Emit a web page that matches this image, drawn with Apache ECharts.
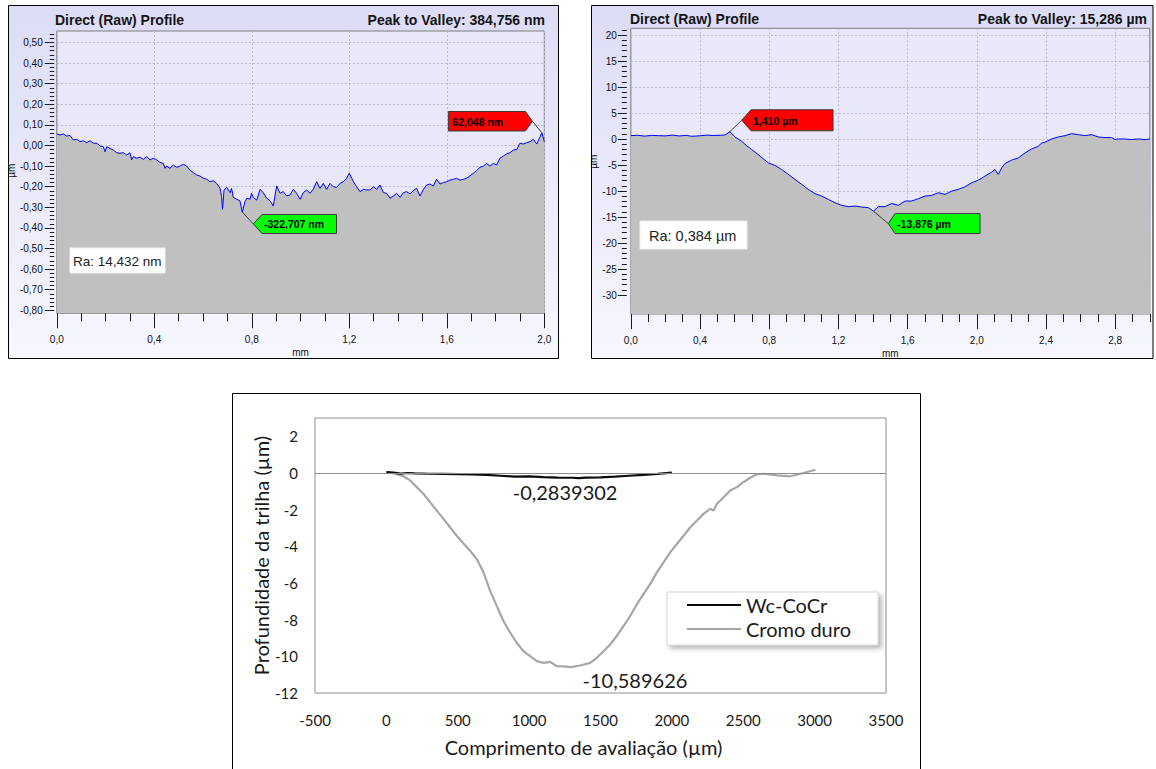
<!DOCTYPE html>
<html><head><meta charset="utf-8">
<script src="https://cdn.jsdelivr.net/npm/echarts@6/dist/echarts.min.js"></script>
<style>html,body{margin:0;padding:0;background:#fff}#c{width:1156px;height:769px}</style>
</head><body><div id="c"></div>
<script>
// ---------------- data ----------------
// Panel 1 : Direct (Raw) Profile, x in mm, y in µm
const p1X = [0.000,0.013,0.027,0.040,0.054,0.068,0.082,0.095,0.109,0.123,0.136,0.150,0.164,0.177,0.191,0.198,0.205,0.218,0.232,0.246,0.259,0.273,0.287,0.300,0.307,0.314,0.328,0.341,0.355,0.369,0.382,0.396,0.410,0.423,0.437,0.444,0.451,0.464,0.478,0.492,0.505,0.519,0.533,0.546,0.560,0.574,0.587,0.601,0.615,0.628,0.642,0.656,0.670,0.676,0.680,0.686,0.697,0.711,0.717,0.724,0.738,0.751,0.761,0.772,0.779,0.793,0.799,0.806,0.820,0.834,0.847,0.861,0.875,0.888,0.902,0.916,0.929,0.943,0.957,0.970,0.984,0.998,1.011,1.025,1.039,1.052,1.066,1.080,1.093,1.107,1.121,1.134,1.148,1.162,1.175,1.189,1.200,1.210,1.217,1.230,1.244,1.258,1.271,1.285,1.299,1.312,1.326,1.340,1.353,1.367,1.381,1.394,1.408,1.422,1.435,1.449,1.463,1.476,1.490,1.504,1.517,1.531,1.545,1.558,1.572,1.586,1.599,1.613,1.627,1.640,1.654,1.668,1.681,1.695,1.709,1.722,1.736,1.750,1.763,1.777,1.791,1.804,1.818,1.832,1.845,1.859,1.873,1.887,1.900,1.914,1.928,1.942,1.955,1.969,1.983,1.990,2.000];
const p1Y = [0.056,0.051,0.056,0.046,0.049,0.027,0.030,0.019,0.023,0.014,0.023,0.011,0.011,-0.002,-0.006,-0.030,-0.006,-0.014,-0.022,-0.035,-0.038,-0.035,-0.046,-0.035,-0.070,-0.054,-0.062,-0.057,-0.067,-0.054,-0.070,-0.062,-0.070,-0.082,-0.087,-0.111,-0.100,-0.111,-0.095,-0.106,-0.100,-0.091,-0.100,-0.119,-0.132,-0.143,-0.148,-0.159,-0.164,-0.176,-0.171,-0.184,-0.208,-0.248,-0.310,-0.216,-0.203,-0.229,-0.208,-0.252,-0.261,-0.268,-0.3227,-0.273,-0.256,-0.261,-0.232,-0.252,-0.265,-0.213,-0.229,-0.256,-0.268,-0.294,-0.197,-0.232,-0.224,-0.245,-0.240,-0.213,-0.232,-0.261,-0.229,-0.216,-0.232,-0.213,-0.176,-0.208,-0.184,-0.213,-0.184,-0.200,-0.203,-0.184,-0.176,-0.159,-0.135,-0.159,-0.176,-0.200,-0.224,-0.213,-0.216,-0.216,-0.200,-0.213,-0.192,-0.229,-0.232,-0.256,-0.245,-0.232,-0.252,-0.229,-0.224,-0.235,-0.219,-0.208,-0.245,-0.213,-0.192,-0.187,-0.197,-0.164,-0.187,-0.180,-0.176,-0.168,-0.164,-0.159,-0.168,-0.164,-0.159,-0.148,-0.135,-0.122,-0.106,-0.100,-0.087,-0.100,-0.087,-0.095,-0.062,-0.051,-0.041,-0.035,-0.022,-0.019,0.011,0.007,0.014,0.019,0.030,0.007,0.043,0.062,0.019];
const p1YTicks = [-0.8,-0.7,-0.6,-0.5,-0.4,-0.3,-0.2,-0.1,0,0.1,0.2,0.3,0.4,0.5];

// Panel 2 : Direct (Raw) Profile, x in mm, y in µm
const p2X = [0.000,0.040,0.080,0.120,0.159,0.200,0.240,0.280,0.320,0.352,0.400,0.440,0.480,0.520,0.545,0.573,0.602,0.641,0.670,0.699,0.737,0.766,0.795,0.834,0.872,0.911,0.949,0.988,1.026,1.065,1.103,1.142,1.180,1.219,1.257,1.296,1.334,1.373,1.402,1.431,1.469,1.508,1.546,1.585,1.623,1.662,1.701,1.739,1.778,1.816,1.855,1.893,1.932,1.970,2.009,2.047,2.086,2.105,2.124,2.144,2.163,2.201,2.240,2.279,2.317,2.356,2.375,2.394,2.433,2.471,2.510,2.548,2.587,2.625,2.664,2.702,2.741,2.779,2.799,2.818,2.856,2.895,2.933,2.972,3.000];
const p2Y = [0.65,0.72,0.55,0.70,0.65,0.60,0.75,0.58,0.70,0.52,0.62,0.75,0.68,0.72,0.78,1.41,0.40,-0.43,-1.30,-2.03,-2.99,-3.80,-4.59,-5.09,-5.86,-6.81,-7.77,-8.73,-9.69,-10.52,-10.97,-11.61,-12.25,-12.76,-13.01,-12.89,-13.08,-13.20,-13.876,-13.01,-13.01,-12.38,-12.76,-11.93,-11.93,-11.48,-10.97,-10.84,-10.33,-10.65,-10.01,-9.69,-9.18,-8.42,-7.91,-7.14,-6.37,-5.86,-6.81,-5.54,-4.71,-4.07,-3.63,-2.67,-1.90,-1.39,-0.75,-0.63,0.01,0.40,0.65,1.03,0.84,0.65,0.84,0.40,0.27,0.27,-0.11,0.01,0.01,-0.11,0.01,-0.11,0.00];
const p2XTicks = [0,0.4,0.8,1.2,1.6,2.0,2.4,2.8];
const p2YTicks = [-30,-25,-20,-15,-10,-5,0,5,10,15,20];

// Panel 3 : comparison (Excel style), x in µm, y in µm
const p3WcX = [0,50,100,150,200,300,400,500,600,700,800,900,1000,1100,1200,1300,1350,1400,1500,1600,1700,1800,1900,2000];
const p3WcY = [0.05,0.02,-0.03,0.00,-0.02,-0.04,-0.05,-0.06,-0.08,-0.10,-0.15,-0.20,-0.18,-0.22,-0.25,-0.26,-0.2839302,-0.25,-0.24,-0.20,-0.15,-0.10,-0.05,0.02];
const p3CrX = [0,40,70,119,166,213,259,306,353,400,446,493,540,586,633,680,727,773,820,867,913,960,1007,1054,1100,1147,1194,1241,1290,1357,1428,1474,1521,1568,1614,1661,1708,1755,1801,1848,1895,1942,1988,2035,2082,2129,2176,2222,2269,2292,2316,2363,2409,2456,2503,2549,2596,2643,2736,2830,2923,3005];
const p3CrY = [0.02,0.00,-0.07,-0.18,-0.40,-0.77,-1.13,-1.59,-2.05,-2.50,-2.96,-3.42,-3.84,-4.24,-4.69,-5.42,-6.43,-7.25,-8.07,-8.71,-9.26,-9.72,-9.99,-10.26,-10.36,-10.30,-10.54,-10.55,-10.589626,-10.50,-10.36,-10.08,-9.72,-9.35,-8.89,-8.35,-7.80,-7.16,-6.61,-6.06,-5.42,-4.88,-4.33,-3.87,-3.42,-2.96,-2.59,-2.23,-1.95,-2.05,-1.68,-1.32,-0.95,-0.77,-0.49,-0.26,-0.07,-0.04,-0.13,-0.18,0.00,0.18];
const p3Names = ['Wc-CoCr', 'Cromo duro'];

// texts
const tTitle = 'Direct (Raw) Profile';
const tPV1 = 'Peak to Valley: 384,756 nm';
const tPV2 = 'Peak to Valley: 15,286 µm';
const tRa1 = 'Ra: 14,432 nm';
const tRa2 = 'Ra: 0,384 µm';
const tPeak1 = '62,048 nm', tValley1 = '-322,707 nm';
const tPeak2 = '1,410 µm', tValley2 = '-13,876 µm';
const tXName = 'mm', tYName = 'µm';
const tX3 = 'Comprimento de avaliação (µm)';
const tY3 = 'Profundidade da trilha (µm)';

// ---------------- chart ----------------
const SANS = "'Liberation Sans', Arial, sans-serif";
const XL = "Lato, 'Open Sans', sans-serif";
const tickC = '#1a1a1a';
const gridLine = {show: true, lineStyle: {color: '#b9b9c9', type: [2, 2], width: 1}};
const zip = (a, b) => a.map((v, i) => [v, b[i]]);
const isMult = (v, s) => Math.abs(v / s - Math.round(v / s)) < 1e-6;

const chart = echarts.init(document.getElementById('c'), null, {renderer: 'svg', width: 1156, height: 769});

const plotBg = '#e8e8fa';
const grids = [
  {left: 56.8, top: 31, width: 487.5, height: 282.3, show: true, backgroundColor: plotBg, borderColor: '#7d7d7d', borderWidth: 1},
  {left: 56.8, top: 31, width: 487.5, height: 279.3, show: false},
  {left: 630.8, top: 28.3, width: 519, height: 285.7, show: true, backgroundColor: plotBg, borderColor: '#7d7d7d', borderWidth: 1},
  {left: 630.8, top: 28.3, width: 519, height: 266.7, show: false},
  {left: 315, top: 418, width: 571, height: 275, show: true, backgroundColor: '#fff', borderColor: '#8f8f8f', borderWidth: 1}
].map(g => Object.assign({outerBoundsMode: 'none', containLabel: false}, g));

const smallLbl = {fontFamily: SANS, fontSize: 10, color: '#111'};
function minorX(gi, max) {
  return {type: 'value', gridIndex: gi, position: 'bottom', min: 0, max: max, interval: 0.1,
    axisLine: {show: false, onZero: false}, axisTick: {show: true, length: 8, lineStyle: {color: tickC}},
    axisLabel: {show: false}, splitLine: {show: false}};
}
function majorX(gi, max, custom) {
  const tick = {show: true, length: 15, lineStyle: {color: tickC}};
  if (custom) tick.customValues = custom;
  return {type: 'value', gridIndex: gi, position: 'bottom', min: 0, max: max, interval: 0.4,
    axisLine: {show: false, onZero: false}, axisTick: tick,
    axisLabel: Object.assign({margin: 21, formatter: v => isMult(v, 0.4) ? v.toFixed(1).replace('.', ',') : ''}, smallLbl),
    splitLine: gridLine,
    name: tXName, nameLocation: 'middle', nameGap: 34, nameTextStyle: {fontFamily: SANS, fontSize: 10, color: '#111'}};
}
const xAxes = [
  minorX(0, 2), majorX(0, 2, null), {type: 'value', gridIndex: 1, min: 0, max: 2, show: false},
  minorX(2, 3), majorX(2, 3, p2XTicks), {type: 'value', gridIndex: 3, min: 0, max: 3, show: false},
  {type: 'value', gridIndex: 4, min: -500, max: 3500, interval: 500, position: 'bottom',
    axisLine: {show: false, onZero: false}, axisTick: {show: false}, splitLine: {show: false},
    axisLabel: {margin: 19, fontFamily: XL, fontSize: 15, color: '#1a1a1a', formatter: v => String(v)},
    name: tX3, nameLocation: 'middle', nameGap: 44, nameTextStyle: {fontFamily: XL, fontSize: 20, color: '#1a1a1a', padding: [0, 34, 0, 0]}}
];
const yAxes = [
  {type: 'value', gridIndex: 0, min: -0.8146, max: 0.5558, show: false},
  {type: 'value', gridIndex: 1, position: 'left', offset: 2.6, min: -0.8, max: 0.5558, interval: 0.1,
    axisLine: {show: false, onZero: false},
    axisTick: {show: true, length: 9.4, lineStyle: {color: tickC}, customValues: p1YTicks},
    minorTick: {show: true, splitNumber: 5, length: 4.4, lineStyle: {color: tickC}},
    axisLabel: Object.assign({margin: 11.5, formatter: v => {
      if (!isMult(v, 0.1)) return '';
      const r = Math.round(v * 10) / 10; return (r === 0 ? 0 : r).toFixed(2).replace('.', ',');
    }}, smallLbl),
    splitLine: gridLine,
    name: tYName, nameLocation: 'middle', nameGap: 27, nameRotate: 90, nameTextStyle: {fontFamily: SANS, fontSize: 10, color: '#111'}},
  {type: 'value', gridIndex: 2, min: -33.65, max: 21.29, show: false},
  {type: 'value', gridIndex: 3, position: 'left', offset: 4, min: -30, max: 21.29, interval: 5,
    axisLine: {show: false, onZero: false},
    axisTick: {show: true, length: 9, lineStyle: {color: tickC}, customValues: p2YTicks},
    minorTick: {show: true, splitNumber: 5, length: 5, lineStyle: {color: tickC}},
    axisLabel: Object.assign({margin: 10, formatter: v => isMult(v, 5) ? String(Math.round(v)) : ''}, smallLbl),
    splitLine: gridLine,
    name: tYName, nameLocation: 'middle', nameGap: 24, nameRotate: 90, nameTextStyle: {fontFamily: SANS, fontSize: 10, color: '#111'}},
  {type: 'value', gridIndex: 4, min: -12, max: 3, interval: 2, position: 'left',
    axisLine: {show: false, onZero: false}, axisTick: {show: false}, splitLine: {show: false},
    axisLabel: {margin: 17, fontFamily: XL, fontSize: 15, color: '#1a1a1a', formatter: v => isMult(v, 2) ? String(v) : ''},
    name: tY3, nameLocation: 'middle', nameGap: 32, nameRotate: 90, nameTextStyle: {fontFamily: XL, fontSize: 20, color: '#1a1a1a'}}
];

const profileSeries = (xi, yi, data) => ({
  type: 'line', xAxisIndex: xi, yAxisIndex: yi, data: data, showSymbol: false, symbol: 'none',
  lineStyle: {color: '#0000ff', width: 1}, itemStyle: {color: '#0000ff'},
  areaStyle: {color: '#c0c0c0', opacity: 1, origin: 'start'}, animation: false, z: 3
});
const lblFmt = p => String(p.value).replace('.', ',');

const option = {
  animation: false,
  backgroundColor: '#fff',
  title: [
    {text: tTitle, left: 55, top: 13, padding: 0, textStyle: {fontFamily: SANS, fontSize: 14, fontWeight: 'bold', color: '#151515'}},
    {text: tPV1, right: 611, top: 13, padding: 0, textStyle: {fontFamily: SANS, fontSize: 14, fontWeight: 'bold', color: '#151515'}},
    {text: tTitle, left: 630, top: 11.5, padding: 0, textStyle: {fontFamily: SANS, fontSize: 14, fontWeight: 'bold', color: '#151515'}},
    {text: tPV2, right: 9, top: 11.5, padding: 0, textStyle: {fontFamily: SANS, fontSize: 14, fontWeight: 'bold', color: '#151515'}}
  ],
  legend: {
    data: p3Names, orient: 'vertical', left: 667, top: 592, padding: [3, 27, 6, 20],
    itemWidth: 54, itemHeight: 2.2, itemGap: 4, icon: 'rect', selectedMode: false,
    backgroundColor: '#fff', borderColor: '#d4d4d4', borderWidth: 1,
    shadowBlur: 5, shadowOffsetX: 3, shadowOffsetY: 3, shadowColor: 'rgba(0,0,0,0.3)',
    textStyle: {fontFamily: XL, fontSize: 20, color: '#1a1a1a'}
  },
  grid: grids,
  xAxis: xAxes,
  yAxis: yAxes,
  series: [
    profileSeries(1, 0, zip(p1X, p1Y)),
    profileSeries(4, 2, zip(p2X, p2Y)),
    {name: p3Names[0], type: 'line', xAxisIndex: 6, yAxisIndex: 4, data: zip(p3WcX, p3WcY), showSymbol: false, symbol: 'none',
      color: '#0d0d0d', lineStyle: {color: '#0d0d0d', width: 2.2}, z: 4,
      markPoint: {symbol: 'circle', symbolSize: 0.1, itemStyle: {color: 'transparent'}, data: [{type: 'min', name: 'min'}],
        label: {show: true, position: 'bottom', distance: 4, offset: [-14, 0], formatter: lblFmt, fontFamily: XL, fontSize: 20, color: '#1a1a1a'}}},
    {name: p3Names[1], type: 'line', xAxisIndex: 6, yAxisIndex: 4, data: zip(p3CrX, p3CrY), showSymbol: false, symbol: 'none',
      color: '#a6a6a6', lineStyle: {color: '#a6a6a6', width: 2.2}, z: 3,
      markLine: {silent: true, symbol: 'none', label: {show: false}, lineStyle: {color: '#8c8c8c', type: 'solid', width: 1}, data: [{yAxis: 0}]},
      markPoint: {symbol: 'circle', symbolSize: 0.1, itemStyle: {color: 'transparent'}, data: [{type: 'min', name: 'min'}],
        label: {show: true, position: 'right', distance: 12, offset: [0, 13], formatter: lblFmt, fontFamily: XL, fontSize: 20, color: '#1a1a1a'}}}
  ]
};
chart.setOption(option);

// ---------------- frames, boxes and peak/valley tags ----------------
function argExt(arr, cmp) { let k = 0; arr.forEach((v, i) => { if (cmp(v, arr[k])) k = i; }); return k; }
function tag(P, dx, dy, dir, arrow, boxW, boxH, fill, text) {
  const T = [P[0] + dx, P[1] + dy];
  const top = T[1] - boxH / 2, bot = T[1] + boxH / 2;
  let pts, tx;
  if (dir === 'right') {
    const r = T[0] - arrow, l = r - boxW;
    pts = [[l, top], [r, top], T, [r, bot], [l, bot]]; tx = l + 4;
  } else {
    const l = T[0] + arrow, r = l + boxW;
    pts = [T, [l, top], [r, top], [r, bot], [l, bot]]; tx = l + 2;
  }
  return [
    {type: 'line', z: 50, shape: {x1: P[0], y1: P[1], x2: T[0], y2: T[1]}, style: {stroke: '#3c3c3c', lineWidth: 1}},
    {type: 'polygon', z: 51, shape: {points: pts}, style: {fill: fill, stroke: '#3a3a3a', lineWidth: 1}},
    {type: 'text', z: 52, x: tx, y: T[1] + 0.5, style: {text: text, fontFamily: SANS, fontSize: 10.5, fontWeight: 'bold', fill: '#000', verticalAlign: 'middle', align: 'left'}}
  ];
}
const frameFill = {type: 'linear', x: 0, y: 0, x2: 0, y2: 1, colorStops: [{offset: 0, color: '#dcdcf6'}, {offset: 1, color: '#f7f7fe'}]};
const i1max = argExt(p1Y, (a, b) => a > b), i1min = argExt(p1Y, (a, b) => a < b);
const i2max = argExt(p2Y, (a, b) => a > b), i2min = argExt(p2Y, (a, b) => a < b);
const px = (s, x, y) => chart.convertToPixel({seriesIndex: s}, [x, y]);
const P1max = px(0, p1X[i1max], p1Y[i1max]), P1min = px(0, p1X[i1min], p1Y[i1min]);
const P2max = px(1, p2X[i2max], p2Y[i2max]), P2min = px(1, p2X[i2min], p2Y[i2min]);

const graphics = [
  {type: 'rect', z: -10, shape: {x: 8.5, y: 5.5, width: 550, height: 353}, style: {fill: frameFill, stroke: '#000', lineWidth: 1}},
  {type: 'rect', z: -10, shape: {x: 591.5, y: 5.5, width: 561.5, height: 353}, style: {fill: frameFill, stroke: '#000', lineWidth: 1}},
  {type: 'rect', z: -10, shape: {x: 232.5, y: 393.5, width: 688, height: 380}, style: {fill: '#fff', stroke: '#000', lineWidth: 1}},
  {type: 'rect', z: 40, shape: {x: 70, y: 248, width: 95, height: 25}, style: {fill: '#fff', stroke: '#f0f0f0', lineWidth: 1}},
  {type: 'text', z: 41, x: 73, y: 261, style: {text: tRa1, fontFamily: SANS, fontSize: 13.5, fill: '#222', verticalAlign: 'middle'}},
  {type: 'rect', z: 40, shape: {x: 640, y: 221, width: 107, height: 28}, style: {fill: '#fff', stroke: '#f0f0f0', lineWidth: 1}},
  {type: 'text', z: 41, x: 649, y: 236, style: {text: tRa2, fontFamily: SANS, fontSize: 14.5, fill: '#222', verticalAlign: 'middle'}}
].concat(
  tag(P1max, -9.5, -11.5, 'right', 7, 77, 19.5, '#ff0000', tPeak1),
  tag(P1min, 11, 12, 'left', 8.7, 74.5, 19, '#00ff00', tValley1),
  tag(P2max, 11.8, -11.4, 'left', 9.3, 82, 21, '#ff0000', tPeak2),
  tag(P2min, 15, 12.4, 'left', 6.7, 85, 20, '#00ff00', tValley2)
);
chart.setOption({graphic: graphics});
</script></body></html>
